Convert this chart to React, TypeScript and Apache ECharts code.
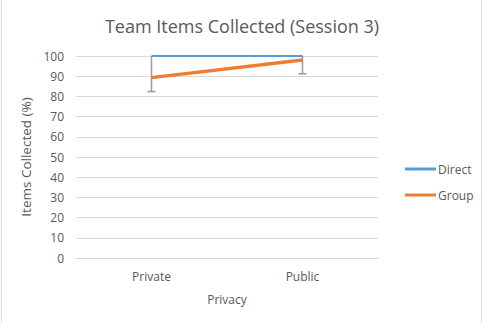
import React, { useEffect, useRef } from "react";
import * as echarts from "echarts";

const categories = ["Private", "Public"];
const directValues = [100, 100];
const groupValues = [89.3, 98];
const directErrMinus = [17.6, 8.8];
const yTicks = [0, 10, 20, 30, 40, 50, 60, 70, 80, 90, 100];

const FONT = "'Open Sans', 'Noto Sans', sans-serif";
const TXT = "#595959";

export default function App() {
  const ref = useRef<HTMLDivElement>(null);
  useEffect(() => {
    document.body.style.margin = "0";
    const chart = echarts.init(ref.current!, null, { renderer: "svg" });
    const errData = categories.map((c, i) => [i, directValues[i], directValues[i] - directErrMinus[i]]);
    chart.setOption({
      animation: false,
      backgroundColor: "#ffffff",
      textStyle: { fontFamily: FONT },
      title: {
        text: "Team Items Collected (Session 3)",
        left: "center",
        top: 12,
        textStyle: { fontFamily: FONT, fontSize: 18, fontWeight: "normal", color: TXT },
      },
      legend: {
        orient: "vertical",
        left: 400,
        top: 158,
        itemWidth: 31,
        itemHeight: 3,
        itemGap: 14,
        icon: "rect",
        data: ["Direct", "Group"],
        textStyle: { fontFamily: FONT, fontSize: 12, color: TXT, padding: [0, 0, 0, -3] },
      },
      grid: { left: 76, right: 106, top: 56, bottom: 65 },
      xAxis: {
        type: "category",
        data: categories,
        name: "Privacy",
        nameLocation: "middle",
        nameGap: 35,
        nameTextStyle: { fontFamily: FONT, fontSize: 12, color: TXT },
        axisTick: { show: false },
        axisLine: { lineStyle: { color: "#d9d9d9" } },
        axisLabel: { fontFamily: FONT, fontSize: 12, color: TXT, margin: 12 },
      },
      yAxis: {
        type: "value",
        min: yTicks[0],
        max: yTicks[yTicks.length - 1],
        interval: 10,
        name: "Items Collected (%)",
        nameLocation: "middle",
        nameGap: 36,
        nameTextStyle: { fontFamily: FONT, fontSize: 13.5, color: TXT },
        axisLine: { show: false },
        axisTick: { show: false },
        splitLine: { lineStyle: { color: "#d9d9d9" } },
        axisLabel: { fontFamily: FONT, fontSize: 12, color: TXT, margin: 12 },
      },
      series: [
        {
          name: "Direct",
          type: "line",
          data: directValues,
          symbol: "none",
          lineStyle: { color: "#5B9BD5", width: 2 },
          itemStyle: { color: "#5B9BD5" },
          z: 3,
        },
        {
          name: "Group",
          type: "line",
          data: groupValues,
          symbol: "none",
          lineStyle: { color: "#ED7D31", width: 3.5 },
          itemStyle: { color: "#ED7D31" },
          z: 4,
        },
        {
          type: "custom",
          name: "err",
          data: errData,
          z: 2,
          renderItem: (params: any, api: any) => {
            const top = api.coord([api.value(0), api.value(1)]);
            const bot = api.coord([api.value(0), api.value(2)]);
            const st = { stroke: "#9a9a9a", lineWidth: 1.5 };
            return {
              type: "group",
              children: [
                { type: "line", shape: { x1: top[0], y1: top[1], x2: bot[0], y2: bot[1] }, style: st },
                { type: "line", shape: { x1: bot[0] - 4, y1: bot[1], x2: bot[0] + 4, y2: bot[1] }, style: st },
              ],
            };
          },
        },
      ],
      graphic: [
        { type: "line", shape: { x1: 1.5, y1: 0, x2: 1.5, y2: 323 }, style: { stroke: "#d9d9d9", lineWidth: 1 } },
        { type: "line", shape: { x1: 481.5, y1: 0, x2: 481.5, y2: 323 }, style: { stroke: "#d9d9d9", lineWidth: 1 } },
      ],
    });
    return () => chart.dispose();
  }, []);
  return <div ref={ref} style={{ position: "absolute", left: 0, top: 0, width: 484, height: 323 }} />;
}
